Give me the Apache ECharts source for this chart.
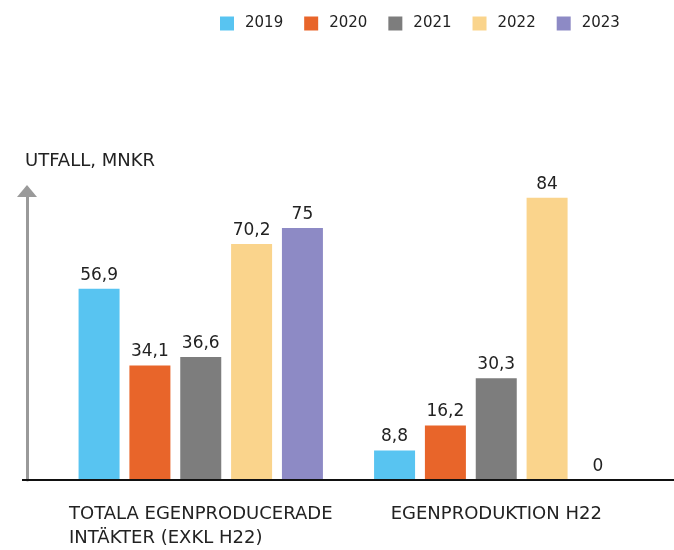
<!DOCTYPE html>
<html>
<head>
<meta charset="utf-8">
<script src="https://cdn.jsdelivr.net/npm/echarts@6/dist/echarts.min.js"></script>
<style>
  html, body { margin: 0; padding: 0; background: #fff; }
  #main { width: 674px; height: 550px; }
</style>
</head>
<body>
<div id="main"></div>
<script>
var categories = ['TOTALA EGENPRODUCERADE\nINTÄKTER (EXKL H22)', 'EGENPRODUKTION H22']
var years = ['2019', '2020', '2021', '2022', '2023']
var values2019 = [56.9, 8.8]
var values2020 = [34.1, 16.2]
var values2021 = [36.6, 30.3]
var values2022 = [70.2, 84]
var values2023 = [75, 0]
var colors = ['#58C4F1', '#E8652A', '#7D7D7D', '#FAD48C', '#8D8AC5']

var font = 'DejaVu Sans'
var chartDom = document.getElementById('main')
var myChart = echarts.init(chartDom)

var allValues = [values2019, values2020, values2021, values2022, values2023]

var series = years.map(function (y, i) {
  return {
    name: y,
    type: 'bar',
    barWidth: 41,
    barGap: '24%',
    itemStyle: { color: colors[i] },
    label: {
      show: true,
      position: 'top',
      distance: 5,
      color: '#222',
      fontSize: 17,
      fontFamily: font,
      formatter: function (p) {
        return String(p.value).replace('.', ',')
      }
    },
    data: allValues[i]
  }
})

var option = {
  animation: false,
  backgroundColor: '#fff',
  title: {
    text: 'UTFALL, MNKR',
    left: 20,
    top: 147,
    textStyle: { fontSize: 18, fontWeight: 'normal', color: '#222', fontFamily: font }
  },
  legend: {
    left: 215,
    top: 11,
    itemWidth: 14,
    itemHeight: 14,
    itemGap: 21,
    icon: 'rect',
    textStyle: { fontSize: 15, color: '#222', fontFamily: font, padding: [0, 0, 0, 6] },
    data: years
  },
  grid: { left: 53, right: 30, top: 191, bottom: 70 },
  xAxis: {
    type: 'category',
    data: categories,
    axisLine: { show: false },
    axisTick: { show: false },
    axisLabel: {
      interval: 0,
      margin: 22,
      align: 'center',
      formatter: function (v) {
        return v.split('\n').map(function (s) { return '{a|' + s + '}' }).join('\n')
      },
      rich: {
        a: { align: 'left', fontSize: 18, color: '#222', fontFamily: font, lineHeight: 24 }
      }
    }
  },
  yAxis: {
    type: 'value',
    min: 0,
    max: 86,
    offset: 26,
    axisLine: {
      show: true,
      symbol: ['none', 'triangle'],
      symbolSize: [20, 12],
      lineStyle: { color: '#9a9a9a', width: 3 }
    },
    axisTick: { show: false },
    axisLabel: { show: false },
    splitLine: { show: false }
  },
  graphic: [
    {
      type: 'line',
      shape: { x1: 22, y1: 480, x2: 674, y2: 480 },
      style: { stroke: '#111', lineWidth: 2 },
      z: 10
    }
  ],
  series: series
}

option && myChart.setOption(option)
</script>
</body>
</html>
